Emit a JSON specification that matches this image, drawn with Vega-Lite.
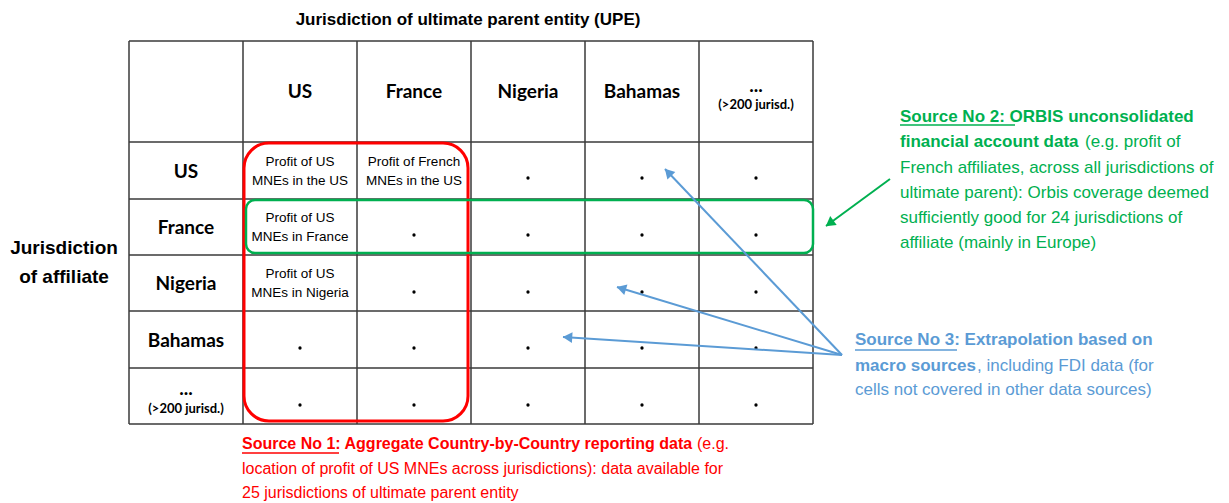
{
  "$schema": "https://vega.github.io/schema/vega-lite/v6.json",
  "width": 1229,
  "height": 503,
  "padding": 0,
  "autosize": {"type": "none"},
  "background": "white",
  "config": {"view": {"stroke": null}},
  "datasets": {
    "grid": [
      {"x": 129, "y": 41, "x2": 129, "y2": 424},
      {"x": 243, "y": 41, "x2": 243, "y2": 424},
      {"x": 357, "y": 41, "x2": 357, "y2": 424},
      {"x": 471, "y": 41, "x2": 471, "y2": 424},
      {"x": 585, "y": 41, "x2": 585, "y2": 424},
      {"x": 699, "y": 41, "x2": 699, "y2": 424},
      {"x": 813, "y": 41, "x2": 813, "y2": 424},
      {"x": 129, "y": 41, "x2": 813, "y2": 41},
      {"x": 129, "y": 142, "x2": 813, "y2": 142},
      {"x": 129, "y": 199, "x2": 813, "y2": 199},
      {"x": 129, "y": 255, "x2": 813, "y2": 255},
      {"x": 129, "y": 311, "x2": 813, "y2": 311},
      {"x": 129, "y": 368, "x2": 813, "y2": 368},
      {"x": 129, "y": 424, "x2": 813, "y2": 424}
    ],
    "boxes": [
      {"src": "s1", "x": 244, "y": 143, "x2": 468, "y2": 421},
      {"src": "s2", "x": 246, "y": 200, "x2": 813, "y2": 253}
    ],
    "labels": [
      {"role": "title", "t": "Jurisdiction of ultimate parent entity (UPE)", "x": 468, "y": 20},
      {"role": "side", "t": "Jurisdiction", "x": 64, "y": 248},
      {"role": "side", "t": "of affiliate", "x": 64, "y": 277},
      {"role": "head", "t": "US", "x": 300, "y": 92},
      {"role": "head", "t": "France", "x": 414, "y": 92},
      {"role": "head", "t": "Nigeria", "x": 528, "y": 92},
      {"role": "head", "t": "Bahamas", "x": 642, "y": 92},
      {"role": "head", "t": "...", "x": 756, "y": 86},
      {"role": "small", "t": "(>200 jurisd.)", "x": 756, "y": 105},
      {"role": "head", "t": "US", "x": 186, "y": 172},
      {"role": "head", "t": "France", "x": 186, "y": 228},
      {"role": "head", "t": "Nigeria", "x": 186, "y": 284},
      {"role": "head", "t": "Bahamas", "x": 186, "y": 341},
      {"role": "head", "t": "...", "x": 186, "y": 389},
      {"role": "small", "t": "(>200 jurisd.)", "x": 186, "y": 409},
      {"role": "cell", "t": "Profit of US", "x": 300, "y": 162},
      {"role": "cell", "t": "MNEs in the US", "x": 300, "y": 181},
      {"role": "cell", "t": "Profit of French", "x": 414, "y": 162},
      {"role": "cell", "t": "MNEs in the US", "x": 414, "y": 181},
      {"role": "cell", "t": "Profit of US", "x": 300, "y": 218},
      {"role": "cell", "t": "MNEs in France", "x": 300, "y": 237},
      {"role": "cell", "t": "Profit of US", "x": 300, "y": 274},
      {"role": "cell", "t": "MNEs in Nigeria", "x": 300, "y": 293}
    ],
    "dots": [
      {"x": 528, "y": 178}, {"x": 642, "y": 178}, {"x": 756, "y": 178},
      {"x": 414, "y": 235}, {"x": 528, "y": 235}, {"x": 642, "y": 235}, {"x": 756, "y": 235},
      {"x": 414, "y": 292}, {"x": 528, "y": 292}, {"x": 642, "y": 292}, {"x": 756, "y": 292},
      {"x": 300, "y": 348}, {"x": 414, "y": 348}, {"x": 528, "y": 348}, {"x": 642, "y": 348}, {"x": 756, "y": 348},
      {"x": 300, "y": 405}, {"x": 414, "y": 405}, {"x": 528, "y": 405}, {"x": 642, "y": 405}, {"x": 756, "y": 405}
    ],
    "notesBold": [
      {"src": "s2", "t": "Source No 2: ORBIS unconsolidated", "x": 900, "y": 117},
      {"src": "s2", "t": "financial account data", "x": 900, "y": 142},
      {"src": "s3", "t": "Source No 3: Extrapolation based on", "x": 855, "y": 340},
      {"src": "s3", "t": "macro sources", "x": 855, "y": 366},
      {"src": "s1", "t": "Source No 1: Aggregate Country-by-Country reporting data", "x": 242, "y": 444}
    ],
    "notesPlain": [
      {"src": "s2", "t": "(e.g. profit of", "x": 1085, "y": 142},
      {"src": "s2", "t": "French affiliates, across all jurisdictions of", "x": 900, "y": 168},
      {"src": "s2", "t": "ultimate parent): Orbis coverage deemed", "x": 900, "y": 193},
      {"src": "s2", "t": "sufficiently good for 24 jurisdictions of", "x": 900, "y": 218},
      {"src": "s2", "t": "affiliate (mainly in Europe)", "x": 900, "y": 243},
      {"src": "s3", "t": ", including FDI data (for", "x": 977, "y": 366},
      {"src": "s3", "t": "cells not covered in other data sources)", "x": 855, "y": 390},
      {"src": "s1", "t": "(e.g.", "x": 697, "y": 444},
      {"src": "s1", "t": "location of profit of US MNEs across jurisdictions): data available for", "x": 242, "y": 469},
      {"src": "s1", "t": "25 jurisdictions of ultimate parent entity", "x": 242, "y": 493}
    ],
    "underlines": [
      {"src": "s2", "x": 900, "x2": 1015, "y": 125},
      {"src": "s3", "x": 855, "x2": 957, "y": 350},
      {"src": "s1", "x": 242, "x2": 339, "y": 453}
    ],
    "arrows": [
      {"src": "s2", "x": 890, "y": 179, "x2": 826, "y2": 226},
      {"src": "s3", "x": 842, "y": 355, "x2": 665, "y2": 169},
      {"src": "s3", "x": 842, "y": 355, "x2": 617, "y2": 287},
      {"src": "s3", "x": 842, "y": 355, "x2": 563, "y2": 337}
    ]
  },
  "encoding": {
    "x": {"field": "x", "type": "quantitative", "scale": {"domain": [0, 1229], "nice": false, "zero": false}, "axis": null},
    "y": {"field": "y", "type": "quantitative", "scale": {"domain": [0, 503], "nice": false, "zero": false, "reverse": true}, "axis": null}
  },
  "layer": [
    {
      "data": {"name": "grid"},
      "mark": {"type": "rule", "color": "#3a3a3a", "strokeWidth": 1.5},
      "encoding": {"x2": {"field": "x2"}, "y2": {"field": "y2"}}
    },
    {
      "data": {"name": "dots"},
      "mark": {"type": "point", "filled": true, "shape": "circle", "size": 11, "color": "black", "opacity": 1}
    },
    {
      "data": {"name": "boxes"},
      "transform": [{"filter": "datum.src == 's1'"}],
      "mark": {"type": "rect", "filled": false, "cornerRadius": 25, "strokeWidth": 3},
      "encoding": {
        "x2": {"field": "x2"}, "y2": {"field": "y2"},
        "color": {"field": "src", "type": "nominal", "scale": {"domain": ["s1", "s2", "s3"], "range": ["#FF0000", "#00B050", "#5B9BD5"]}, "legend": null}
      }
    },
    {
      "data": {"name": "boxes"},
      "transform": [{"filter": "datum.src == 's2'"}],
      "mark": {"type": "rect", "filled": false, "cornerRadius": 9, "strokeWidth": 2.5},
      "encoding": {
        "x2": {"field": "x2"}, "y2": {"field": "y2"},
        "color": {"field": "src", "type": "nominal", "scale": {"domain": ["s1", "s2", "s3"], "range": ["#FF0000", "#00B050", "#5B9BD5"]}, "legend": null}
      }
    },
    {
      "data": {"name": "labels"},
      "transform": [{"filter": "datum.role == 'head'"}],
      "mark": {"type": "text", "font": "Lato", "fontWeight": "bold", "fontSize": 19, "align": "center", "baseline": "middle", "color": "black"},
      "encoding": {"text": {"field": "t"}}
    },
    {
      "data": {"name": "labels"},
      "transform": [{"filter": "datum.role == 'small'"}],
      "mark": {"type": "text", "font": "Lato", "fontWeight": "bold", "fontSize": 13, "align": "center", "baseline": "middle", "color": "black"},
      "encoding": {"text": {"field": "t"}}
    },
    {
      "data": {"name": "labels"},
      "transform": [{"filter": "datum.role == 'cell'"}],
      "mark": {"type": "text", "font": "Liberation Sans", "fontSize": 13.5, "align": "center", "baseline": "middle", "color": "black"},
      "encoding": {"text": {"field": "t"}}
    },
    {
      "data": {"name": "labels"},
      "transform": [{"filter": "datum.role == 'title'"}],
      "mark": {"type": "text", "font": "Liberation Sans", "fontWeight": "bold", "fontSize": 17, "align": "center", "baseline": "middle", "color": "black"},
      "encoding": {"text": {"field": "t"}}
    },
    {
      "data": {"name": "labels"},
      "transform": [{"filter": "datum.role == 'side'"}],
      "mark": {"type": "text", "font": "Liberation Sans", "fontWeight": "bold", "fontSize": 19, "align": "center", "baseline": "middle", "color": "black"},
      "encoding": {"text": {"field": "t"}}
    },
    {
      "data": {"name": "notesBold"},
      "transform": [{"filter": "datum.src != 's1'"}],
      "mark": {"type": "text", "font": "Liberation Sans", "fontWeight": "bold", "fontSize": 17, "align": "left", "baseline": "middle"},
      "encoding": {
        "text": {"field": "t"},
        "color": {"field": "src", "type": "nominal", "scale": {"domain": ["s1", "s2", "s3"], "range": ["#FF0000", "#00B050", "#5B9BD5"]}, "legend": null}
      }
    },
    {
      "data": {"name": "notesBold"},
      "transform": [{"filter": "datum.src == 's1'"}],
      "mark": {"type": "text", "font": "Liberation Sans", "fontWeight": "bold", "fontSize": 16, "align": "left", "baseline": "middle"},
      "encoding": {
        "text": {"field": "t"},
        "color": {"field": "src", "type": "nominal", "scale": {"domain": ["s1", "s2", "s3"], "range": ["#FF0000", "#00B050", "#5B9BD5"]}, "legend": null}
      }
    },
    {
      "data": {"name": "notesPlain"},
      "transform": [{"filter": "datum.src != 's1'"}],
      "mark": {"type": "text", "font": "Liberation Sans", "fontSize": 17, "align": "left", "baseline": "middle"},
      "encoding": {
        "text": {"field": "t"},
        "color": {"field": "src", "type": "nominal", "scale": {"domain": ["s1", "s2", "s3"], "range": ["#FF0000", "#00B050", "#5B9BD5"]}, "legend": null}
      }
    },
    {
      "data": {"name": "notesPlain"},
      "transform": [{"filter": "datum.src == 's1'"}],
      "mark": {"type": "text", "font": "Liberation Sans", "fontSize": 16, "align": "left", "baseline": "middle"},
      "encoding": {
        "text": {"field": "t"},
        "color": {"field": "src", "type": "nominal", "scale": {"domain": ["s1", "s2", "s3"], "range": ["#FF0000", "#00B050", "#5B9BD5"]}, "legend": null}
      }
    },
    {
      "data": {"name": "underlines"},
      "mark": {"type": "rule", "strokeWidth": 1.5},
      "encoding": {
        "x2": {"field": "x2"},
        "color": {"field": "src", "type": "nominal", "scale": {"domain": ["s1", "s2", "s3"], "range": ["#FF0000", "#00B050", "#5B9BD5"]}, "legend": null}
      }
    },
    {
      "data": {"name": "arrows"},
      "mark": {"type": "rule", "strokeWidth": 2},
      "encoding": {
        "x2": {"field": "x2"}, "y2": {"field": "y2"},
        "color": {"field": "src", "type": "nominal", "scale": {"domain": ["s1", "s2", "s3"], "range": ["#FF0000", "#00B050", "#5B9BD5"]}, "legend": null}
      }
    },
    {
      "data": {"name": "arrows"},
      "transform": [
        {"calculate": "sqrt(pow(datum.x2 - datum.x, 2) + pow(datum.y2 - datum.y, 2))", "as": "len"},
        {"calculate": "datum.x2 - 4.5 * (datum.x2 - datum.x) / datum.len", "as": "hx"},
        {"calculate": "datum.y2 - 4.5 * (datum.y2 - datum.y) / datum.len", "as": "hy"},
        {"calculate": "atan2(datum.x2 - datum.x, -(datum.y2 - datum.y)) * 180 / PI", "as": "ang"}
      ],
      "mark": {"type": "point", "shape": "triangle-up", "filled": true, "size": 120, "opacity": 1},
      "encoding": {
        "x": {"field": "hx", "type": "quantitative"},
        "y": {"field": "hy", "type": "quantitative"},
        "angle": {"field": "ang", "type": "quantitative", "scale": null},
        "color": {"field": "src", "type": "nominal", "scale": {"domain": ["s1", "s2", "s3"], "range": ["#FF0000", "#00B050", "#5B9BD5"]}, "legend": null}
      }
    }
  ]
}
